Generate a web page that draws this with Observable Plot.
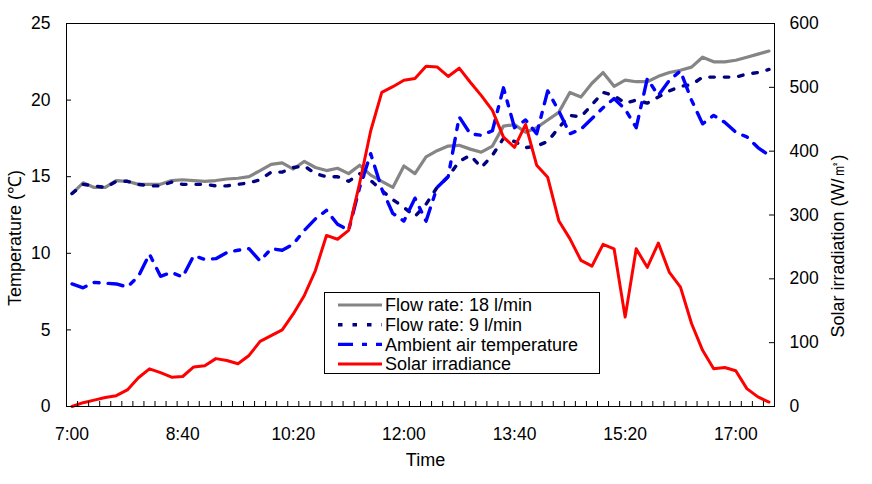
<!DOCTYPE html>
<html><head><meta charset="utf-8">
<script src="https://cdn.jsdelivr.net/npm/d3@7"></script>
<script src="https://cdn.jsdelivr.net/npm/@observablehq/plot@0.6"></script>
<style>body{margin:0;background:#fff;}</style>
</head><body><div id="chart"></div>
<script>
// Time categories (10-minute steps)
const times = ["7:00","7:10","7:20","7:30","7:40","7:50","8:00","8:10","8:20","8:30",
"8:40","8:50","9:00","9:10","9:20","9:30","9:40","9:50","10:00","10:10",
"10:20","10:30","10:40","10:50","11:00","11:10","11:20","11:30","11:40","11:50",
"12:00","12:10","12:20","12:30","12:40","12:50","13:00","13:10","13:20","13:30",
"13:40","13:50","14:00","14:10","14:20","14:30","14:40","14:50","15:00","15:10",
"15:20","15:30","15:40","15:50","16:00","16:10","16:20","16:30","16:40","16:50",
"17:00","17:10","17:20","17:30"];

// Temperature (°C), flow rate 18 l/min
const flow18 = [13.9,14.6,14.3,14.3,14.75,14.7,14.5,14.5,14.5,14.75,
14.8,14.75,14.7,14.75,14.85,14.9,15.0,15.4,15.8,15.9,
15.5,16.0,15.6,15.4,15.55,15.2,15.75,15.1,14.7,14.3,
15.7,15.2,16.3,16.7,17.0,17.05,16.8,16.6,17.0,18.3,
18.4,17.9,18.2,18.7,19.2,20.5,20.2,21.1,21.8,20.9,
21.3,21.2,21.2,21.55,21.8,21.95,22.15,22.8,22.5,22.5,
22.6,22.8,23.0,23.2];

// Temperature (°C), flow rate 9 l/min
const flow9 = [13.9,14.5,14.4,14.3,14.7,14.7,14.5,14.4,14.4,14.65,
14.5,14.5,14.5,14.4,14.4,14.5,14.6,14.8,15.3,15.3,
15.6,15.7,15.2,15.0,15.0,14.7,15.2,14.75,14.1,13.5,
13.0,12.4,13.2,14.3,15.0,16.0,16.4,15.6,16.4,17.5,
17.3,16.9,17.0,17.3,18.2,19.0,18.9,19.7,20.5,20.3,
19.8,20.0,19.8,20.2,20.6,20.9,21.0,21.5,21.5,21.5,
21.5,21.7,21.8,22.0];

// Ambient air temperature (°C)
const ambient = [8.0,7.75,8.1,8.05,8.0,7.8,8.5,9.95,8.5,8.75,
8.45,9.85,9.6,9.65,10.05,10.2,10.3,9.5,10.3,10.2,
10.6,11.5,12.25,12.8,11.9,11.5,14.3,16.5,14.2,12.6,
12.1,13.6,12.1,14.3,15.0,18.9,17.8,17.7,18.0,20.8,
18.2,18.7,17.8,20.6,19.3,17.8,18.1,18.8,19.5,20.1,
19.4,18.2,21.4,20.3,21.3,21.9,20.0,18.45,19.0,18.55,
17.9,17.6,16.9,16.4];

// Solar irradiance (W/m2)
const solar = [0,6,10,14,17,26,45,59,53,46,
47,62,64,75,72,67,80,102,111,120,
145,174,213,268,262,276,350,432,492,501,
511,514,533,532,517,530,508,487,464,422,
406,442,378,359,291,263,229,220,254,247,
140,247,218,256,210,187,130,88,59,61,
56,28,15,7];

const xTickLabels = ["7:00","8:40","10:20","12:00","13:40","15:20","17:00"];
const leftTicks = [0,5,10,15,20,25];
const rightTicks = [0,100,200,300,400,500,600];

const seriesNames = ["Flow rate: 18 l/min","Flow rate: 9 l/min","Ambient air temperature","Solar irradiance"];

const toMin = s => { const [h,m] = s.split(":").map(Number); return (h-7)*60 + m; };
const ratio = 600/25;

const data = times.map((t,i) => ({t: toMin(t), flow18: flow18[i], flow9: flow9[i], ambient: ambient[i], solar: solar[i]/ratio}));
const boundaries = d3.range(-5, 640, 10);
const xTickVals = xTickLabels.map(toMin);
const labelOf = new Map(xTickLabels.map(s => [toMin(s), s]));

const styles = {
  flow18: {stroke: "#858585", strokeWidth: 3.2},
  flow9: {stroke: "#000080", strokeWidth: 3.4, strokeDasharray: "4.5,10"},
  ambient: {stroke: "#0000ff", strokeWidth: 3.4, strokeDasharray: "15,9,5,9"},
  solar: {stroke: "#ff0000", strokeWidth: 3}
};

const W = 872, H = 484, mT = 23, mB = 78, mL = 66, mR = 98;
const fw = W - mL - mR, fh = H - mT - mB, tk = 5;

const plot = Plot.plot({
  width: W, height: H,
  marginTop: mT, marginBottom: mB, marginLeft: mL, marginRight: mR,
  style: {fontFamily: "'Liberation Sans', Arial, sans-serif", fontSize: "17.5px", color: "black", background: "white"},
  x: {domain: [-5, 635]},
  y: {domain: [0, 25]},
  marks: [
    Plot.line(data, {x: "t", y: "flow18", ...styles.flow18}),
    Plot.line(data, {x: "t", y: "flow9", ...styles.flow9}),
    Plot.line(data, {x: "t", y: "ambient", ...styles.ambient}),
    Plot.line(data, {x: "t", y: "solar", ...styles.solar}),
    Plot.frame({stroke: "black", strokeWidth: 1}),
    // inward tick marks
    Plot.tickX(boundaries, {x: d => d, insetTop: fh - tk, stroke: "black"}),
    Plot.tickY(leftTicks, {y: d => d, insetRight: fw - tk, stroke: "black"}),
    Plot.tickY(rightTicks.map(v => v/ratio), {y: d => d, insetLeft: fw - tk, stroke: "black"}),
    // tick labels
    Plot.axisX(xTickVals, {anchor: "bottom", tickSize: 0, tickPadding: 21, tickFormat: d => labelOf.get(d), label: null}),
    Plot.axisY(leftTicks, {anchor: "left", tickSize: 0, tickPadding: 16, label: null}),
    Plot.axisY(rightTicks.map(v => v/ratio), {anchor: "right", tickSize: 0, tickPadding: 15, tickFormat: d => Math.round(d*ratio), label: null}),
    Plot.text(["Time"], {frameAnchor: "bottom", dy: 59, dx: 5, fontSize: 18})
  ]
});

document.getElementById("chart").appendChild(plot);

const svg = d3.select(plot);
// rotated axis titles
svg.append("text").attr("transform", "translate(15,238) rotate(-90)")
  .attr("text-anchor", "middle").attr("dy", "0.35em").attr("font-size", 18).attr("fill", "black")
  .text("Temperature (℃)");
svg.append("text").attr("transform", "translate(838,246) rotate(-90)")
  .attr("text-anchor", "middle").attr("dy", "0.35em").attr("font-size", 18).attr("fill", "black")
  .text("Solar irradiation (W/㎡)");

// Legend box inside plot area
const lg = svg.append("g").attr("font-size", 18).attr("text-anchor", "start");
lg.append("rect").attr("x", 324.5).attr("y", 292.5).attr("width", 275).attr("height", 81)
  .attr("fill", "white").attr("stroke", "black").attr("stroke-width", 1);
const keys = ["flow18","flow9","ambient","solar"];
keys.forEach((k, i) => {
  const y = 305 + i * 19.7;
  const s = styles[k];
  lg.append("line").attr("x1", 338).attr("x2", 382).attr("y1", y).attr("y2", y)
    .attr("stroke", s.stroke).attr("stroke-width", s.strokeWidth)
    .attr("stroke-dasharray", s.strokeDasharray || null);
  lg.append("text").attr("x", 385).attr("y", y).attr("dy", "0.35em").attr("fill", "black").text(seriesNames[i]);
});
</script>
</body></html>
